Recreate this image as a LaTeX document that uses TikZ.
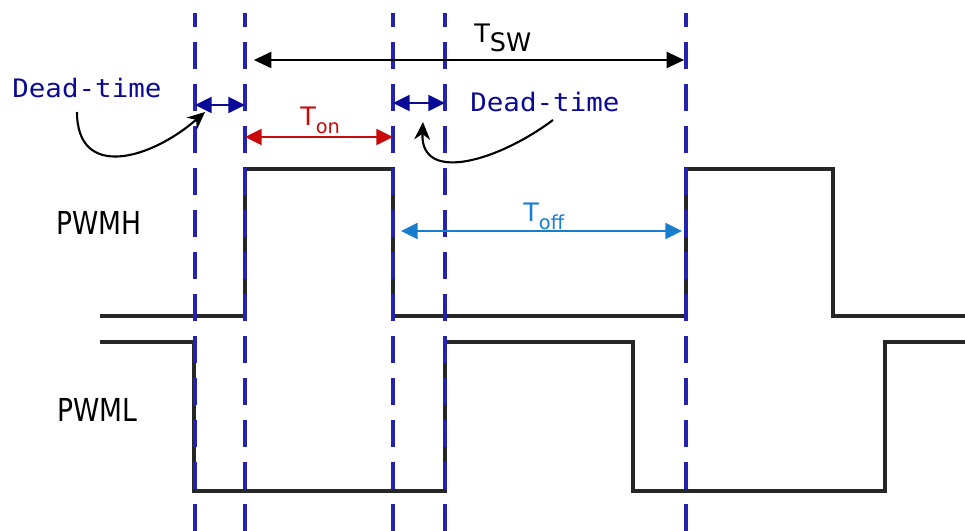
\documentclass[tikz,border=0pt]{standalone}
\usepackage{fontspec}
\usepackage{tikz}
\usetikzlibrary{arrows.meta,calc}

\setmainfont{DejaVu Sans}
\newfontfamily\sigfont[FakeStretch=0.84]{DejaVu Sans}
\newfontfamily\dtfont[FakeStretch=1.08]{DejaVu Sans Mono}

\definecolor{guide}{RGB}{35,35,175}
\definecolor{deadc}{RGB}{10,10,150}
\definecolor{onc}{RGB}{200,10,10}
\definecolor{offc}{RGB}{25,125,205}

\tikzset{
  guideline/.style={guide,line width=2pt,dash pattern=on 15.5pt off 8.4pt,dash phase=7.5pt},
  signal/.style={black!85,line width=2.1pt,line join=miter},
  dimarrow/.style={line width=1.4pt,{Triangle[length=9.5pt,width=9pt]}-{Triangle[length=9.5pt,width=9pt]}},
  curvy/.style={black,line width=1.2pt,-{Stealth[length=10pt,width=9pt]}},
  dtlabel/.style={deadc,font=\dtfont\fontsize{14.5}{16}\selectfont,anchor=base west,inner sep=0pt},
  siglabel/.style={font=\sigfont\fontsize{18}{20}\selectfont,anchor=base west,inner sep=0pt}
}

\begin{document}
\begin{tikzpicture}[x=0.2mm,y=-0.2mm]
\useasboundingbox (0,0) rectangle (965,531);

% guide lines
\foreach \x/\n in {195/a,245/b,393/c,445/d,686/e} {
  \coordinate (\n top) at (\x,13);
  \coordinate (\n bot) at (\x,531);
}

% signals
\draw[signal] (100,316) -- (245,316) -- (245,169) -- (393,169) -- (393,316)
  -- (686,316) -- (686,169) -- (833,169) -- (833,316) -- (965,316);
\draw[signal] (100,342) -- (194,342) -- (194,491) -- (445,491) -- (445,342)
  -- (633,342) -- (633,491) -- (885,491) -- (885,342) -- (965,342);

\foreach \n in {a,b,c,d,e}
  \draw[guideline] (\n top) -- (\n bot);

% labels
\node[siglabel] (pwmh) at (56,235) {PWMH};
\node[siglabel] (pwml) at (57,422) {PWML};

% switching period
\coordinate (swL) at (245,60);
\coordinate (swR) at (686,60);
\draw[line width=1.5pt,{Triangle[length=10pt,width=9pt]}-{Triangle[length=10pt,width=9pt]}]
  ([xshift=5pt]swL) -- ([xshift=-1pt]swR);
\node[anchor=base west,inner sep=0pt,font=\fontsize{14.5}{16}\selectfont] (tsw) at (474,43)
  {T\raisebox{-5pt}{SW}};

% on time
\coordinate (onL) at (245,137);
\coordinate (onR) at (393,137);
\draw[dimarrow,onc] (onL) -- (onR);
\node[onc,anchor=base west,inner sep=0pt] (ton) at (300,126)
  {\fontsize{14.5}{16}\selectfont T\raisebox{-4pt}{\fontsize{11}{12}\selectfont on}};

% off time
\coordinate (offL) at (401,231);
\coordinate (offR) at (682,231);
\draw[dimarrow,offc] (offL) -- (offR);
\node[offc,anchor=base west,inner sep=0pt] (toff) at (523,222)
  {\fontsize{14.5}{16}\selectfont T\raisebox{-4pt}{\fontsize{11}{12}\selectfont off}};

% dead times
\coordinate (dt1L) at (195,105);
\coordinate (dt1R) at (245,105);
\coordinate (dt2L) at (393,103);
\coordinate (dt2R) at (445,103);
\draw[dimarrow,deadc] (dt1L) -- (dt1R);
\draw[dimarrow,deadc] (dt2L) -- (dt2R);

\node[dtlabel] (dtA) at (12,98) {Dead-time};
\node[dtlabel] (dtB) at (470,112) {Dead-time};

\coordinate (dtAfoot) at (77,112);
\coordinate (dtAtip) at (205,112);
\coordinate (dtBfoot) at (553,120);
\coordinate (dtBtip) at (423,122);
\draw[curvy] (dtAfoot) .. controls (77,180) and (150,160) .. (dtAtip);
\draw[curvy] (dtBfoot) .. controls (500,160) and (420,185) .. (dtBtip);
\end{tikzpicture}
\end{document}
